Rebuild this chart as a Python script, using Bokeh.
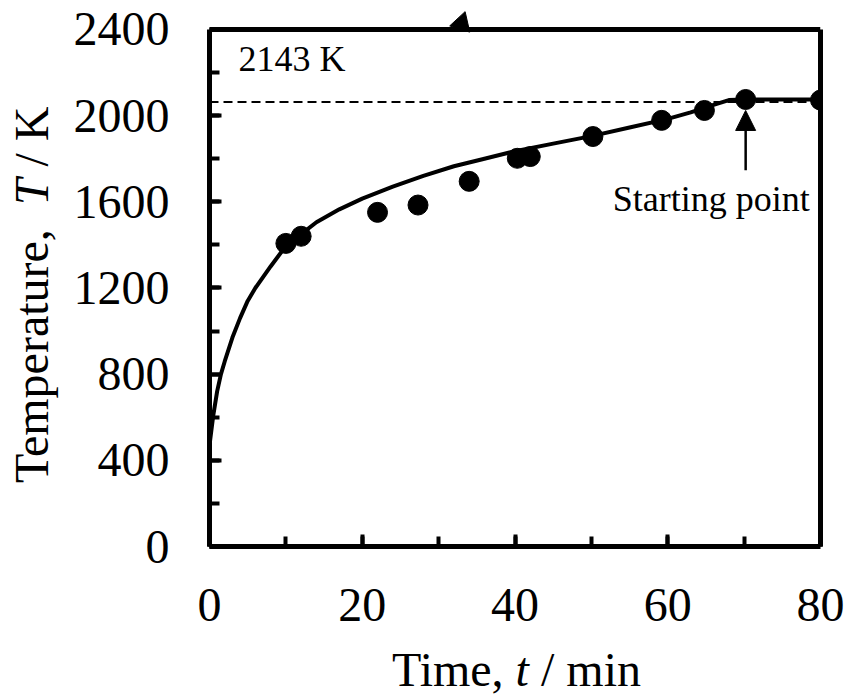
from bokeh.plotting import figure
from bokeh.layouts import column, row
from bokeh.models import (Range1d, Label, Arrow, NormalHead, Span, SingleIntervalTicker,
                          FixedTicker, LinearAxis, Div)
from bokeh.embed import file_html
from bokeh.resources import INLINE

# ---- data ----
time_pts = [10, 12, 22, 27.3, 34, 40.3, 42, 50.2, 59.2, 64.8, 70.2, 80]
temp_pts = [1407, 1440, 1551, 1585, 1695, 1802, 1810, 1903, 1978, 2024, 2075, 2072]

curve_t = [-0.5, 0, 0.5, 1, 1.5, 2, 3, 4, 5, 6, 8, 10, 12, 14, 17, 20, 24, 28, 32,
           36, 40, 45, 50, 55, 60, 63, 66, 68, 70, 80]
curve_T = [310, 470, 610, 720, 800, 860, 970, 1060, 1140, 1200, 1300, 1395, 1450, 1505,
           1565, 1615, 1670, 1720, 1765, 1800, 1835, 1870, 1905, 1945, 1985, 2015, 2050,
           2072, 2075, 2075]

dashed_level = 2063
dashed_label = "2143 K"
start_label = "Starting point"
start_arrow_t = [70.2, 70.2]
start_arrow_T = [1746, 2024]
# small black triangle sitting on the top edge of the box
tri_t = [33.0]
tri_T = [2429]

x_min, x_max = 0, 80
y_min, y_max = 0, 2400
y_view_top = 2488          # a little room above the box for the triangle
x_major = 20
y_major = 400
x_title_html = "Time, <i>t</i> / min"
y_title_html = "Temperature,&nbsp; <i>T</i> / K"

FONT = "Liberation Serif"
FS = 48

YW = 62          # width of the y-title strip
MAIN_W = 783
MAIN_H = 646
XH = 47
LEFT_B = 209 - YW
TOP_B = 10
FRAME_W = 611
FRAME_H = 536

p = figure(width=MAIN_W, height=MAIN_H, x_range=Range1d(x_min, x_max),
           y_range=Range1d(y_min, y_view_top),
           output_backend="svg", toolbar_location=None,
           min_border_left=LEFT_B, min_border_right=MAIN_W - LEFT_B - FRAME_W,
           min_border_top=TOP_B, min_border_bottom=MAIN_H - TOP_B - FRAME_H)
p.grid.visible = False
p.background_fill_color = "white"
p.border_fill_color = "white"
p.outline_line_color = None

p.xaxis.ticker = SingleIntervalTicker(interval=x_major, num_minor_ticks=2)
p.yaxis.ticker = SingleIntervalTicker(interval=y_major, num_minor_ticks=2)
p.yaxis.bounds = (y_min, y_max)
for ax in (p.xaxis, p.yaxis):
    ax.axis_line_width = 5
    ax.axis_line_color = "black"
    ax.major_tick_in = 12
    ax.major_tick_out = 0
    ax.minor_tick_in = 10
    ax.minor_tick_out = 0
    ax.major_tick_line_width = 4
    ax.minor_tick_line_width = 4
    ax.major_tick_line_color = "black"
    ax.minor_tick_line_color = "black"
    ax.major_label_text_font = FONT
    ax.major_label_text_font_size = f"{FS}px"
    ax.major_label_text_color = "black"
p.xaxis.major_label_standoff = 42
p.yaxis.major_label_standoff = 40

right_ax = LinearAxis(bounds=(y_min, y_max), ticker=FixedTicker(ticks=[]),
                      axis_line_width=5, axis_line_color="black",
                      major_tick_in=0, major_tick_out=0, minor_tick_in=0, minor_tick_out=0,
                      major_label_text_font_size="0px")
p.add_layout(right_ax, "right")
p.add_layout(Span(location=y_max, dimension="width", line_color="black", line_width=5))

p.add_layout(Span(location=dashed_level, dimension="width", line_color="black",
                  line_width=2, line_dash="9 5"))
p.line(curve_t, curve_T, line_width=4, line_color="black")
p.scatter(time_pts, temp_pts, size=20, color="black")
p.scatter(tri_t, tri_T, marker="triangle", size=21, angle=-0.3, color="black")

p.add_layout(Label(x=3.8, y=2168, text=dashed_label, text_font=FONT,
                   text_font_size="36px", text_color="black"))
p.add_layout(Label(x=65.7, y=1518, text=start_label, text_font=FONT, text_align="center",
                   text_font_size="36px", text_color="black"))
p.add_layout(Arrow(end=NormalHead(size=20, fill_color="black", line_color="black"),
                   x_start=start_arrow_t[0], y_start=start_arrow_T[0],
                   x_end=start_arrow_t[1], y_end=start_arrow_T[1],
                   line_width=2.5, line_color="black"))

# ---- axis titles as HTML text (italic variable symbols) ----
BASE = 40.2   # baseline offset inside a 48px line box (Liberation Serif)
common = (f"position:absolute; white-space:nowrap; font-family:'{FONT}'; "
          f"font-size:{FS}px; line-height:{FS}px; color:black; margin:0; padding:0;")
y_html = (f'<div style="position:relative; width:{YW}px; height:{MAIN_H}px; overflow:visible;">'
          f'<div style="{common} left:{48 - BASE:.1f}px; top:483px; '
          f'transform-origin:0 0; transform:rotate(-90deg);">{y_title_html}</div></div>')
x_html = (f'<div style="position:relative; width:{YW + MAIN_W}px; height:{XH}px; overflow:visible;">'
          f'<div style="{common} left:392px; top:{686 - MAIN_H - BASE:.1f}px;">{x_title_html}</div></div>')

ydiv = Div(text=y_html, width=YW, height=MAIN_H, margin=0)
xdiv = Div(text=x_html, width=YW + MAIN_W, height=XH, margin=0)

layout = column(row(ydiv, p, spacing=0), xdiv, spacing=0)
open("out.html", "w").write(file_html(layout, INLINE))
